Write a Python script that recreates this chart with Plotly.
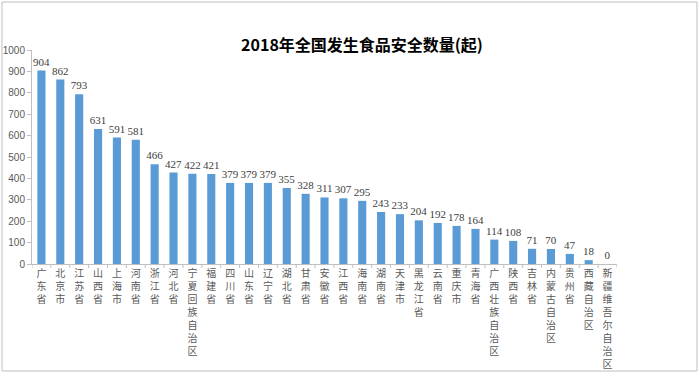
import plotly.graph_objects as go

provinces = ["广东省", "北京市", "江苏省", "山西省", "上海市", "河南省", "浙江省", "河北省",
             "宁夏回族自治区", "福建省", "四川省", "山东省", "辽宁省", "湖北省", "甘肃省", "安徽省",
             "江西省", "海南省", "湖南省", "天津市", "黑龙江省", "云南省", "重庆市", "青海省",
             "广西壮族自治区", "陕西省", "吉林省", "内蒙古自治区", "贵州省", "西藏自治区", "新疆维吾尔自治区"]
counts = [904, 862, 793, 631, 591, 581, 466, 427, 422, 421, 379, 379, 379, 355, 328, 311,
          307, 295, 243, 233, 204, 192, 178, 164, 114, 108, 71, 70, 47, 18, 0]
y_ticks = [0, 100, 200, 300, 400, 500, 600, 700, 800, 900, 1000]

vertical = ["<br>".join(list(p)) for p in provinces]

fig = go.Figure(go.Bar(
    x=list(range(len(provinces))), y=counts,
    marker=dict(color="#5B9BD5", line=dict(width=0)),
    text=[str(c) for c in counts], textposition="outside", constraintext="none",
    textfont=dict(family="Liberation Serif, serif", size=11, color="#404040"),
    cliponaxis=False,
))

L, R, T, B = 32, 83, 50, 110
W, H = 700, 374
pw, ph = W - L - R, H - T - B

fig.update_layout(
    width=W, height=H,
    margin=dict(l=L, r=R, t=T, b=B, autoexpand=False),
    plot_bgcolor="white", paper_bgcolor="white",
    bargap=0.57,
    showlegend=False,
    title=dict(text="<b>2018年全国发生食品安全数量(起)</b>", x=362 / W, xanchor="center",
               y=1 - 45 / H, yanchor="middle",
               font=dict(family="Noto Sans CJK SC", size=16, color="#000000")),
    xaxis=dict(tickmode="array", tickvals=list(range(len(provinces))), ticktext=vertical,
               range=[-0.5, len(provinces) - 0.5], showline=True, linecolor="#BFBFBF",
               ticks="", automargin=False,
               tickfont=dict(family="Noto Sans CJK SC", size=10, color="#595959"),
               showgrid=False),
    yaxis=dict(range=[0, 1000], tickvals=y_ticks, showline=True, linecolor="#BFBFBF",
               ticks="outside", ticklen=4, tickcolor="#BFBFBF", showgrid=False, zeroline=False,
               automargin=False,
               tickfont=dict(family="Liberation Sans", size=10, color="#595959")),
)

# category separator tick marks
for i in range(len(provinces) + 1):
    fig.add_shape(type="line", xref="x", yref="paper", x0=i - 0.5, x1=i - 0.5, y0=0, y1=-4 / ph,
                  line=dict(color="#BFBFBF", width=1))

# outer frame
fig.add_shape(type="rect", xref="paper", yref="paper",
              x0=(2 - L) / pw, x1=(697 - L) / pw, y0=(T + ph - 371) / ph, y1=(T + ph - 2) / ph,
              line=dict(color="#BFBFBF", width=1), fillcolor="rgba(0,0,0,0)", layer="below")

fig.write_html("out.html", config={"displayModeBar": False},
               post_script="document.body.style.margin='0';")
